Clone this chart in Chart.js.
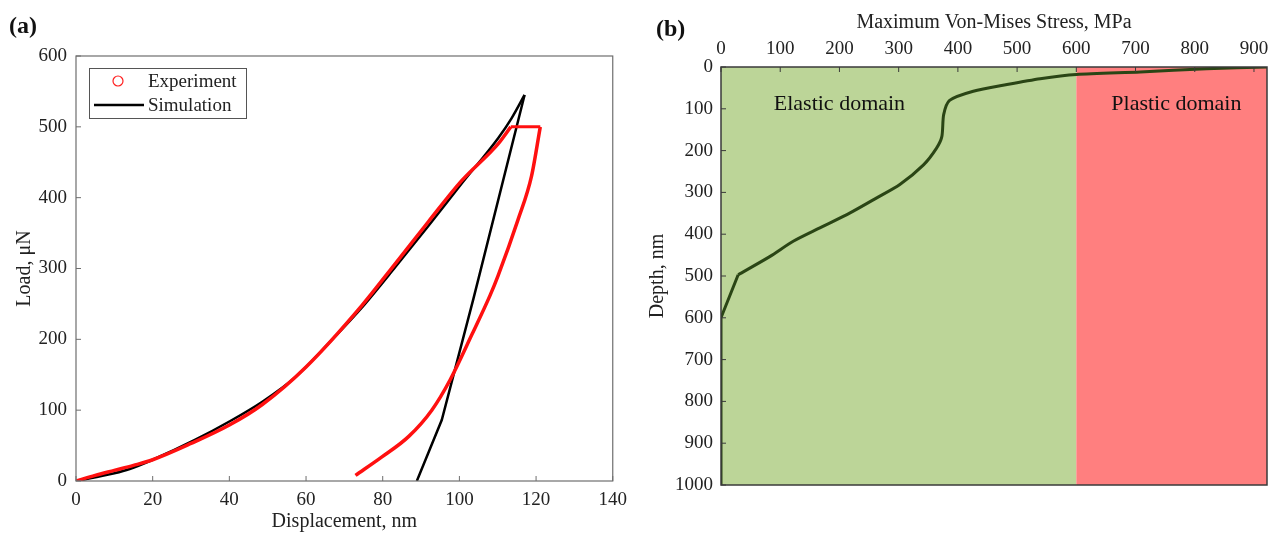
<!DOCTYPE html>
<html>
<head>
<meta charset="utf-8">
<script src="https://cdn.jsdelivr.net/npm/chart.js@4.4.1/dist/chart.umd.min.js"></script>
<style>
  html, body { margin: 0; padding: 0; background: #fff; }
  #wrap { position: relative; width: 1270px; height: 534px; overflow: hidden; }
  canvas { position: absolute; top: 0; }
  #cv-a { left: 0; }
  #cv-b { left: 635px; }
  .tag { position: absolute; font: bold 24px "Liberation Serif", serif; color: #111; line-height: 28px; }
</style>
</head>
<body>
<div id="wrap">
  <canvas id="cv-a" width="635" height="534"></canvas>
  <canvas id="cv-b" width="645" height="534"></canvas>
  <div class="tag" style="left:9px;top:11px">(a)</div>
  <div class="tag" style="left:656px;top:14px">(b)</div>
</div>

<script>
/* ---------- (a) load – displacement ---------- */
const expLoadDisp   = [0, 5, 10, 15, 20, 30, 40, 48.6, 60, 74.6, 83.3, 91.9, 100.6, 110.1, 113.4];
const expLoadForce  = [0, 8, 15, 22, 30, 53, 79, 108, 161, 248, 307, 366, 424, 476, 500];
const expHoldDisp   = [113.4, 121.1];
const expHoldForce  = [500, 500];
// unloading branch, listed from the tail up to the hold corner
const expUnloadDisp  = [72.9, 79.8, 86.8, 92.8, 97.6, 103.2, 108, 110.1, 115.3, 118.8, 121.1];
const expUnloadForce = [8, 34, 63, 100, 143, 206, 262, 290, 369, 430, 500];

const simLoadDisp   = [0, 10, 14, 20, 31, 40, 48.6, 57.3, 66, 74.6, 83.3, 91.9, 100.6, 110.1, 113.6, 117];
const simLoadForce  = [0, 11, 17, 30, 58, 84, 112, 147, 195, 245, 302, 360, 420, 484, 512, 545];
const simUnloadDisp  = [117, 104.9, 103.6, 95.4, 88.9];
const simUnloadForce = [545, 284, 256, 86, 0];

const dispMax = 140, dispStep = 20;
const loadMax = 600, loadStep = 100;

/* ---------- (b) stress – depth ---------- */
// straight foot of the profile (surface-far part)
const footStress = [0, 0, 29];
const footDepth  = [1000, 600, 497];
// curved part up to the surface
const curveStress = [29, 83, 122, 167, 218, 263, 302, 342, 364, 373, 376, 386, 426, 483, 539, 600, 708, 820, 922];
const curveDepth  = [497, 453, 417, 385, 349, 313, 281, 234, 194, 166, 114, 80, 58, 42, 28, 18, 12, 4, 0];

const stressMax = 922, stressStep = 100;
const depthMax = 1000, depthStep = 100;
const elasticLimit = 600;

const domainLabels = [
  { text: 'Elastic domain', stress: 200, depth: 88 },
  { text: 'Plastic domain', stress: 769, depth: 88 }
];

const SERIF = '"Liberation Serif", "Times New Roman", serif';
const INK = '#222';
const CURVE = '#2a4515';

const pts = (xs, ys) => xs.map((x, i) => ({ x, y: ys[i] }));
const plain = v => String(v);

/* ---------- plugins ---------- */
// box + short inward ticks, matlab style
const framePlugin = {
  id: 'frame',
  afterDatasetsDraw(chart, args, o) {
    const { ctx, chartArea: a, scales } = chart;
    ctx.save();
    ctx.strokeStyle = o.color;
    ctx.lineWidth = o.width;
    ctx.strokeRect(a.left, a.top, a.right - a.left, a.bottom - a.top);
    ctx.beginPath();
    for (const t of scales.x.ticks) {
      const px = scales.x.getPixelForValue(t.value);
      if (scales.x.position === 'top') { ctx.moveTo(px, a.top); ctx.lineTo(px, a.top + o.tick); }
      else { ctx.moveTo(px, a.bottom); ctx.lineTo(px, a.bottom - o.tick); }
    }
    for (const t of scales.y.ticks) {
      const py = scales.y.getPixelForValue(t.value);
      ctx.moveTo(a.left, py); ctx.lineTo(a.left + o.tick, py);
    }
    ctx.lineWidth = 1;
    ctx.stroke();
    ctx.restore();
  }
};

// boxed legend inside the plot (a)
const boxLegend = {
  id: 'boxLegend',
  afterDraw(chart, args, o) {
    if (!o.items) return;
    const { ctx, chartArea: a } = chart;
    const L = a.left + 13, T = a.top + 12, W = 157, H = 50;
    ctx.save();
    ctx.fillStyle = '#fff';
    ctx.fillRect(L, T, W, H);
    ctx.strokeStyle = '#555';
    ctx.lineWidth = 1;
    ctx.strokeRect(L + 0.5, T + 0.5, W, H);
    ctx.font = '19px ' + SERIF;
    ctx.textBaseline = 'middle';
    o.items.forEach((it, i) => {
      const cy = T + 13 + i * 24;
      if (it.kind === 'circle') {
        ctx.beginPath();
        ctx.arc(L + 29, cy, 5, 0, Math.PI * 2);
        ctx.strokeStyle = it.color; ctx.lineWidth = 1.2;
        ctx.stroke();
      } else {
        ctx.beginPath();
        ctx.moveTo(L + 5, cy); ctx.lineTo(L + 55, cy);
        ctx.strokeStyle = it.color; ctx.lineWidth = 2.5;
        ctx.stroke();
      }
      ctx.fillStyle = INK;
      ctx.fillText(it.label, L + 59, cy + 1);
    });
    ctx.restore();
  }
};

// elastic / plastic background bands (b)
const bands = {
  id: 'bands',
  beforeDatasetsDraw(chart, args, o) {
    if (!o.list) return;
    const { ctx, chartArea: a, scales: { x } } = chart;
    ctx.save();
    for (const b of o.list) {
      const x0 = x.getPixelForValue(b.from), x1 = x.getPixelForValue(b.to);
      ctx.fillStyle = b.color;
      ctx.fillRect(x0, a.top, x1 - x0, a.bottom - a.top);
    }
    ctx.restore();
  },
  afterDatasetsDraw(chart, args, o) {
    if (!o.labels) return;
    const { ctx, scales: { x, y } } = chart;
    ctx.save();
    ctx.font = '22px ' + SERIF;
    ctx.fillStyle = '#111';
    ctx.textAlign = 'center';
    ctx.textBaseline = 'middle';
    for (const l of o.labels) ctx.fillText(l.text, x.getPixelForValue(l.stress), y.getPixelForValue(l.depth));
    ctx.restore();
  }
};

const tickFont = { family: SERIF, size: 19 };
const titleFont = { family: SERIF, size: 20 };

/* ---------- chart (a) ---------- */
const RED = '#ff1010';
new Chart(document.getElementById('cv-a'), {
  type: 'scatter',
  data: {
    datasets: [
      { label: 'Experiment', data: pts(expLoadDisp, expLoadForce), showLine: true, borderColor: RED, borderWidth: 3.5, pointRadius: 0, cubicInterpolationMode: 'monotone' },
      { label: 'Experiment hold', data: pts(expHoldDisp, expHoldForce), showLine: true, borderColor: RED, borderWidth: 3, pointRadius: 0 },
      { label: 'Experiment unload', data: pts(expUnloadDisp, expUnloadForce), showLine: true, borderColor: RED, borderWidth: 3.5, pointRadius: 0, cubicInterpolationMode: 'monotone' },
      { label: 'Simulation', data: pts(simLoadDisp, simLoadForce), showLine: true, borderColor: '#000', borderWidth: 2.5, pointRadius: 0, cubicInterpolationMode: 'monotone' },
      { label: 'Simulation unload', data: pts(simUnloadDisp, simUnloadForce), showLine: true, borderColor: '#000', borderWidth: 2.5, pointRadius: 0, tension: 0 }
    ]
  },
  options: {
    responsive: false,
    animation: false,
    layout: { padding: { left: 0, right: 20, top: 56, bottom: 0 } },
    plugins: {
      legend: { display: false },
      tooltip: { enabled: false },
      frame: { color: '#6e6e6e', width: 1.2, tick: 5 },
      boxLegend: { items: [
        { kind: 'circle', color: '#ff2020', label: 'Experiment' },
        { kind: 'line', color: '#000', label: 'Simulation' }
      ] }
    },
    scales: {
      x: {
        type: 'linear', min: 0, max: dispMax,
        ticks: { stepSize: dispStep, font: tickFont, color: INK, padding: 8, maxRotation: 0, callback: plain },
        grid: { display: false, drawTicks: false },
        border: { display: false },
        title: { display: true, text: 'Displacement, nm', font: titleFont, color: INK, padding: { top: 0, bottom: 0 } },
        afterFit(s) { s.height = 53; }
      },
      y: {
        type: 'linear', min: 0, max: loadMax,
        ticks: { stepSize: loadStep, font: tickFont, color: INK, padding: 9, callback: plain },
        grid: { display: false, drawTicks: false },
        border: { display: false },
        title: { display: true, text: 'Load, μN', font: titleFont, color: INK, padding: { top: 13, bottom: 0 } },
        afterFit(s) { s.width = 76; }
      }
    }
  },
  plugins: [framePlugin, boxLegend]
});

/* ---------- chart (b) ---------- */
new Chart(document.getElementById('cv-b'), {
  type: 'scatter',
  data: {
    datasets: [
      { label: 'Stress (foot)', data: pts(footStress, footDepth), showLine: true, borderColor: CURVE, borderWidth: 3, pointRadius: 0, tension: 0 },
      { label: 'Max von Mises stress', data: pts(curveStress, curveDepth), showLine: true, borderColor: CURVE, borderWidth: 3, pointRadius: 0, tension: 0.25 }
    ]
  },
  options: {
    responsive: false,
    animation: false,
    layout: { padding: { left: 0, right: 13, top: 0, bottom: 49 } },
    plugins: {
      legend: { display: false },
      tooltip: { enabled: false },
      frame: { color: '#3a3a3a', width: 1.5, tick: 5 },
      bands: {
        list: [
          { from: 0, to: elasticLimit, color: '#bcd598' },
          { from: elasticLimit, to: stressMax, color: '#ff7f7f' }
        ],
        labels: domainLabels
      }
    },
    scales: {
      x: {
        type: 'linear', position: 'top', min: 0, max: stressMax,
        ticks: { stepSize: stressStep, includeBounds: false, font: tickFont, color: INK, padding: 7, maxRotation: 0, callback: plain },
        grid: { display: false, drawTicks: false },
        border: { display: false },
        title: { display: true, text: 'Maximum Von-Mises Stress, MPa', font: titleFont, color: INK, padding: { top: 11, bottom: 0 } },
        afterFit(s) { s.height = 67; }
      },
      y: {
        type: 'linear', reverse: true, min: 0, max: depthMax,
        ticks: { stepSize: depthStep, font: tickFont, color: INK, padding: 8, callback: plain },
        grid: { display: false, drawTicks: false },
        border: { display: false },
        title: { display: true, text: 'Depth, nm', font: titleFont, color: INK, padding: { top: 11, bottom: 0 } },
        afterFit(s) { s.width = 86; }
      }
    }
  },
  plugins: [bands, framePlugin]
});
</script>
</body>
</html>
